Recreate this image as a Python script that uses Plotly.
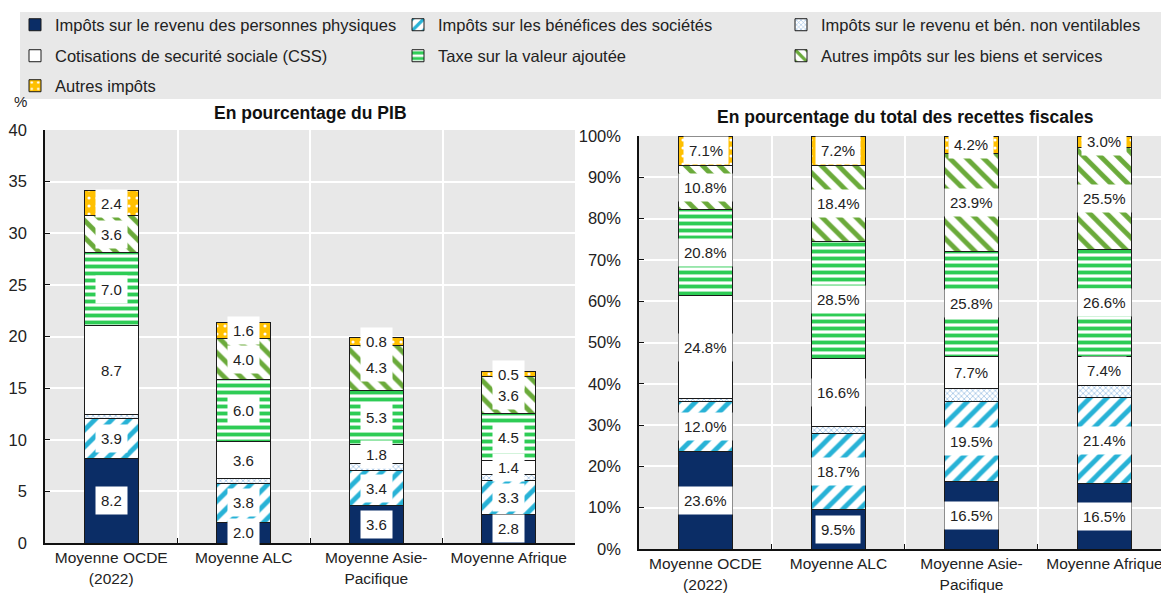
import plotly.graph_objects as go

W, H = 1161, 598

categories = ["Moyenne OCDE<br>(2022)", "Moyenne ALC", "Moyenne Asie-<br>Pacifique", "Moyenne Afrique"]

series_names = [
    "Impôts sur le revenu des personnes physiques",
    "Impôts sur les bénéfices des sociétés",
    "Impôts sur le revenu et bén. non ventilables",
    "Cotisations de securité sociale (CSS)",
    "Taxe sur la valeur ajoutée",
    "Autres impôts sur les biens et services",
    "Autres impôts",
]

# % of GDP
gdp_pit = [8.2, 2.0, 3.6, 2.8]
gdp_cit = [3.9, 3.8, 3.4, 3.3]
gdp_una = [0.3, 0.4, 0.7, 0.5]
gdp_ssc = [8.7, 3.6, 1.8, 1.4]
gdp_vat = [7.0, 6.0, 5.3, 4.5]
gdp_ogs = [3.6, 4.0, 4.3, 3.6]
gdp_oth = [2.4, 1.6, 0.8, 0.5]

# % of total tax revenue
shr_pit = [23.6, 9.5, 16.5, 16.5]
shr_cit = [12.0, 18.7, 19.5, 21.4]
shr_una = [0.9, 1.5, 3.3, 3.0]
shr_ssc = [24.8, 16.6, 7.7, 7.4]
shr_vat = [20.8, 28.5, 25.8, 26.6]
shr_ogs = [10.8, 18.4, 23.9, 25.5]
shr_oth = [7.1, 7.2, 4.2, 3.0]

gdp_series = [gdp_pit, gdp_cit, gdp_una, gdp_ssc, gdp_vat, gdp_ogs, gdp_oth]
shr_series = [shr_pit, shr_cit, shr_una, shr_ssc, shr_vat, shr_ogs, shr_oth]
labelled = [True, True, False, True, True, True, True]

LINE = dict(color="#1a1a1a", width=1)
styles = [
    dict(color="#0B2D66", line=LINE),
    dict(color="white", line=LINE, pattern=dict(shape="/", fgcolor="#27B2D6", bgcolor="white", size=12, solidity=0.4, fillmode="replace")),
    dict(color="white", line=LINE, pattern=dict(shape="x", fgcolor="#8DB6E0", bgcolor="white", size=4, solidity=0.3, fillmode="replace")),
    dict(color="white", line=LINE),
    dict(color="white", line=LINE, pattern=dict(shape="-", fgcolor="#2ECC55", bgcolor="white", size=7, solidity=0.55, fillmode="replace")),
    dict(color="white", line=LINE, pattern=dict(shape="\\", fgcolor="#6AAA3A", bgcolor="white", size=12, solidity=0.4, fillmode="replace")),
    dict(color="#FFC000", line=LINE, pattern=dict(shape=".", fgcolor="white", bgcolor="#FFC000", size=8, solidity=0.12, fillmode="replace")),
]
legend_ids = ["legend", "legend", "legend", "legend2", "legend2", "legend2", "legend3"]

fig = go.Figure()

# normalise shares so each bar reaches 100 %
tot_shr = [sum(s[i] for s in shr_series) for i in range(4)]
shr_plot = [[s[i] / tot_shr[i] * 100 for i in range(4)] for s in shr_series]

for k, name in enumerate(series_names):
    fig.add_trace(go.Bar(x=categories, y=gdp_series[k], name=name, marker=styles[k],
                         xaxis="x", yaxis="y", legend=legend_ids[k], hoverinfo="skip"))
for k, name in enumerate(series_names):
    fig.add_trace(go.Bar(x=categories, y=shr_plot[k], name=name, marker=styles[k],
                         xaxis="x2", yaxis="y2", showlegend=False, hoverinfo="skip"))

annotations = []
LBL = dict(size=15, color="#222222", family="Liberation Sans, Arial, sans-serif")


def add_labels(series, shown, xref, yref, fmt):
    for i, cat in enumerate(categories):
        base = 0.0
        for k, s in enumerate(series):
            v = s[i]
            if labelled[k]:
                annotations.append(dict(x=cat, y=base + v / 2, xref=xref, yref=yref,
                                        text=fmt(shown[k][i]), showarrow=False, bgcolor="white",
                                        borderpad=5, font=LBL))
            base += v


add_labels(gdp_series, gdp_series, "x", "y", lambda v: f"{v:.1f}")
add_labels(shr_plot, shr_series, "x2", "y2", lambda v: f"{v:.1f}%")

annotations += [
    dict(x=310 / W, y=1 - 113 / H, xref="paper", yref="paper", text="<b>En pourcentage du PIB</b>",
         showarrow=False, font=dict(size=17.5, color="#111"), xanchor="center", yanchor="middle"),
    dict(x=905 / W, y=1 - 117 / H, xref="paper", yref="paper",
         text="<b>En pourcentage du total des recettes fiscales</b>",
         showarrow=False, font=dict(size=17.5, color="#111"), xanchor="center", yanchor="middle"),
    dict(x=20 / W, y=1 - 101 / H, xref="paper", yref="paper", text="%", showarrow=False,
         font=dict(size=15, color="#222"), xanchor="center", yanchor="middle"),
]

axis_common = dict(showline=True, linecolor="#111", linewidth=1.5, ticks="inside", ticklen=5,
                   tickcolor="#111", showgrid=True, gridcolor="white", gridwidth=2, zeroline=False,
                   tickfont=dict(size=16.5, color="#222"))
xcommon = dict(axis_common, tickson="boundaries", tickfont=dict(size=15.5, color="#222"),
               type="category", fixedrange=True)

legend_common = dict(orientation="h", xref="container", yref="container", xanchor="left",
                     yanchor="middle", bgcolor="rgba(0,0,0,0)", font=dict(size=16.5, color="#222"),
                     entrywidth=338, entrywidthmode="pixels", itemwidth=30, traceorder="normal",
                     x=15 / W)

fig.update_layout(
    width=W, height=H,
    margin=dict(l=0, r=0, t=0, b=0, autoexpand=False),
    paper_bgcolor="white", plot_bgcolor="#E8E8E8",
    font=dict(family="Liberation Sans, Arial, sans-serif", color="#222"),
    barmode="stack", bargap=0.594,
    xaxis=dict(xcommon, domain=[45 / W, 575 / W], range=[-0.5, 3.5], anchor="y"),
    yaxis=dict(axis_common, domain=[(H - 543) / H, (H - 130) / H], range=[0, 40], dtick=5,
               anchor="x", ticklabelstandoff=13),
    xaxis2=dict(xcommon, domain=[639 / W, 1.0], range=[-0.5, 3.425], anchor="y2"),
    yaxis2=dict(axis_common, domain=[(H - 549) / H, (H - 136) / H], range=[0, 100], dtick=10,
                ticksuffix="%", anchor="x2", ticklabelstandoff=13),
    legend=dict(legend_common, y=1 - 25 / H),
    legend2=dict(legend_common, y=1 - 56 / H),
    legend3=dict(legend_common, y=1 - 86 / H),
    shapes=[dict(type="rect", xref="paper", yref="paper", x0=20 / W, x1=1.0,
                 y0=1 - 99 / H, y1=1 - 12 / H, fillcolor="#E8E8E8", line=dict(width=0),
                 layer="below")],
    annotations=annotations,
)

fig.write_html("out.html", config={"displayModeBar": False},
               post_script="document.body.style.margin='0';document.body.style.overflow='hidden';")
